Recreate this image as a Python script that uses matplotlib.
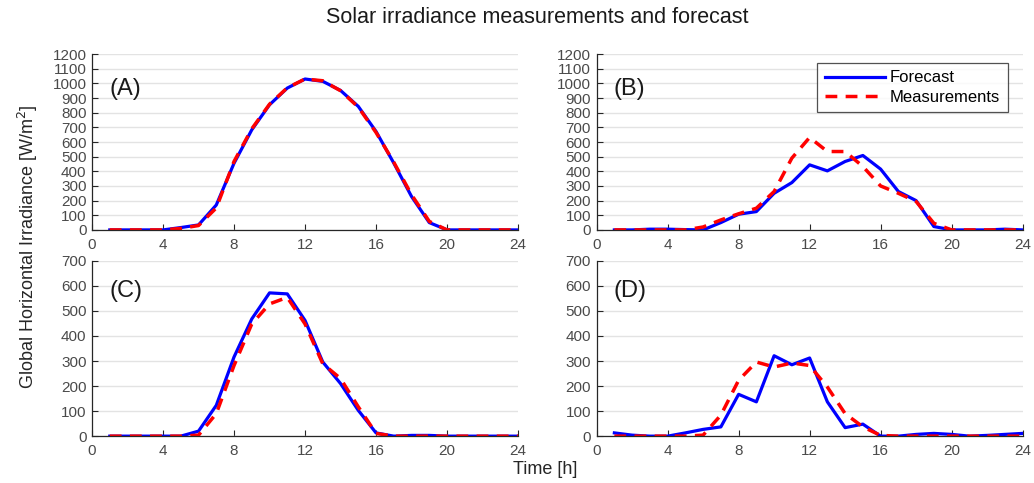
import numpy as np
import matplotlib
matplotlib.use('Agg')
import matplotlib.pyplot as plt

plt.rcParams['font.family'] = ['Liberation Sans', 'DejaVu Sans']

hours = list(range(1, 25))

# (A) clear day
fc_a = [0, 0, 0, 0, 16, 34, 170, 455, 683, 854, 968, 1030, 1014, 952, 843, 672, 456, 228, 50, 0, 0, 0, 0, 0]
ms_a = [0, 0, 0, 0, 10, 30, 150, 467, 690, 858, 970, 1030, 1018, 950, 838, 665, 462, 240, 58, 0, 0, 0, 0, 0]
# (B)
fc_b = [0, 0, 5, 5, 2, 0, 50, 107, 125, 250, 323, 444, 403, 467, 508, 415, 262, 200, 23, 0, 0, 0, 5, 0]
ms_b = [0, 0, 0, 0, 0, 20, 68, 110, 148, 262, 490, 631, 535, 535, 433, 300, 250, 194, 45, 0, 0, 0, 0, 0]
# (C)
fc_c = [0, 0, 0, 0, 0, 20, 123, 316, 468, 572, 568, 462, 296, 210, 103, 13, 0, 3, 3, 0, 0, 0, 0, 0]
ms_c = [0, 0, 0, 0, 0, 4, 90, 282, 448, 528, 554, 448, 289, 230, 117, 11, 0, 0, 0, 0, 0, 0, 0, 0]
# (D)
fc_d = [13, 4, 0, 0, 13, 27, 37, 167, 137, 321, 285, 312, 137, 34, 48, 0, 0, 7, 11, 7, 0, 3, 7, 11]
ms_d = [0, 0, 0, 0, 0, 4, 84, 223, 296, 276, 292, 282, 196, 90, 37, 3, 0, 0, 0, 0, 0, 0, 0, 0]

panels = [('(A)', fc_a, ms_a, 1200), ('(B)', fc_b, ms_b, 1200),
          ('(C)', fc_c, ms_c, 700), ('(D)', fc_d, ms_d, 700)]

fig = plt.figure(figsize=(10.34, 4.83), dpi=100)
pos = [[0.089, 0.524, 0.412, 0.364], [0.577, 0.524, 0.412, 0.364],
       [0.089, 0.097, 0.412, 0.363], [0.577, 0.097, 0.412, 0.363]]

axc = '#262626'
for i, (lab, fc, ms, ymax) in enumerate(panels):
    ax = fig.add_axes(pos[i])
    ax.plot(hours, fc, color='blue', lw=2.3, label='Forecast')
    ax.plot(hours, ms, color='red', lw=2.5, ls=(0, (3.4, 2.4)), label='Measurements')
    ax.set_xlim(0, 24)
    ax.set_ylim(0, ymax)
    ax.set_xticks(range(0, 25, 4))
    ax.set_yticks(range(0, ymax + 1, 100))
    ax.yaxis.grid(True, color='#e3e3e3', lw=1)
    ax.set_axisbelow(True)
    for s in ['top', 'right']:
        ax.spines[s].set_visible(False)
    for s in ['left', 'bottom']:
        ax.spines[s].set_color(axc)
        ax.spines[s].set_linewidth(0.9)
    ax.tick_params(direction='in', length=4, width=0.8, color=axc,
                   labelsize=11, labelcolor='#4a4a4a')
    ax.tick_params(axis='x', pad=6)
    ax.tick_params(axis='y', pad=4)
    ax.text(0.04, 0.8 if ymax == 1200 else 0.83, lab, transform=ax.transAxes,
            fontsize=17, va='center', ha='left', color='#1a1a1a')
    if i == 1:
        leg = ax.legend(loc='upper right', bbox_to_anchor=(0.965, 0.95), fontsize=12,
                        frameon=True, fancybox=False, handlelength=3.6,
                        borderpad=0.45, labelspacing=0.25, handletextpad=0.3,
                        borderaxespad=0)
        leg.get_frame().set_edgecolor('#262626')
        leg.get_frame().set_linewidth(0.9)

fig.suptitle('Solar irradiance measurements and forecast', fontsize=15.5,
             y=0.985, x=0.52, color='#1a1a1a')
fig.text(0.027, 0.49, 'Global Horizontal Irradiance [W/m$^2$]', rotation=90,
         fontsize=13, va='center', ha='center', color='#262626')
fig.text(0.527, 0.027, 'Time [h]', fontsize=13, va='center', ha='center',
         color='#262626')

fig.savefig('out.png', dpi=100)
